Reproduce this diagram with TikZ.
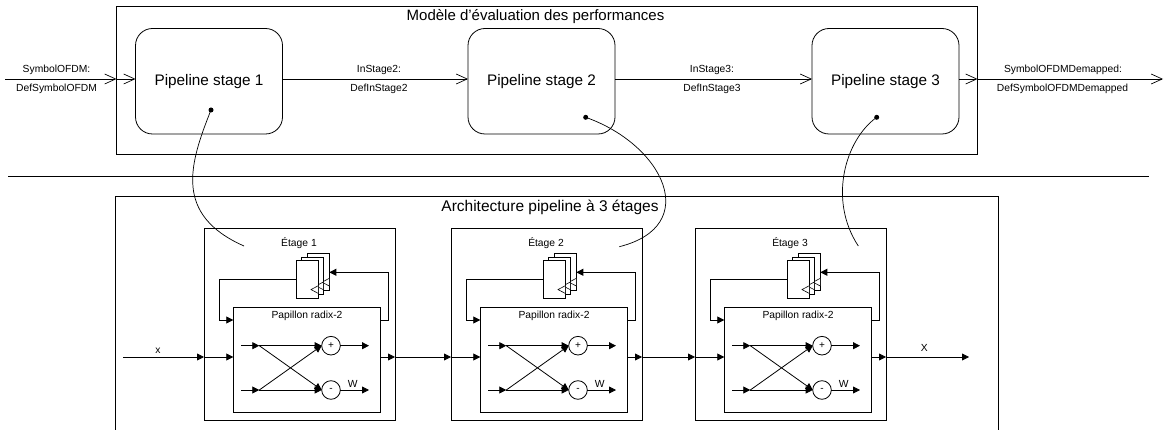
\documentclass[tikz,border=0pt]{standalone}
\usepackage{fontspec}
\setmainfont{Liberation Sans}
\usetikzlibrary{arrows.meta}
\tikzset{
  framebox/.style={draw, line width=0.8pt, inner sep=0pt, outer sep=0pt, fill=none},
  stagebox/.style={framebox, rounded corners=17pt, minimum width=147pt, minimum height=105.5pt, font=\fontsize{15.3}{17}\selectfont},
  regbox/.style={framebox, fill=white, minimum width=22.3pt, minimum height=37.6pt},
  opcircle/.style={draw, circle, line width=0.8pt, inner sep=0pt, outer sep=0pt, minimum size=18.6pt, font=\fontsize{10}{11}\selectfont},
  smalltext/.style={font=\fontsize{10.3}{11}\selectfont, inner sep=0pt},
  titletext/.style={font=\fontsize{15}{17}\selectfont, inner sep=0pt},
  openflow/.style={line width=0.8pt, -{Straight Barb[length=11pt,width=10pt,line width=0.7pt]}},
  flow/.style={line width=0.8pt, -{Triangle[length=7pt,width=7pt]}},
  linkline/.style={line width=0.7pt},
  linkdot/.style={circle, fill, inner sep=0pt, minimum size=5pt},
}
\begin{document}
\begin{tikzpicture}[x=1pt,y=-1pt]
    \useasboundingbox (0,0) rectangle (1167,430);
    % Performance model
    \node[framebox, minimum width=861pt, minimum height=147.5pt] (model) at (547,80.25) {};
    \node[titletext] (modeltitle) at (535.5,16.5) {Modèle d’évaluation des performances};
    \node[stagebox] (stage1) at (209,81.25) {Pipeline stage 1};
    \node[stagebox] (stage2) at (541.5,81.25) {Pipeline stage 2};
    \node[stagebox] (stage3) at (885.5,81.25) {Pipeline stage 3};
    \coordinate (flowin) at (5,79); \coordinate (flowout) at (1163,79);
    \coordinate (modelin) at (model.west |- flowin); \coordinate (modelout) at (model.east |- flowin);
    \draw[openflow] (flowin) -- (modelin);
    \draw[openflow] (modelin) -- (stage1.west |- flowin);
    \draw[openflow] (stage1.east |- flowin) -- (stage2.west |- flowin);
    \draw[openflow] (stage2.east |- flowin) -- (stage3.west |- flowin);
    \draw[openflow] (stage3.east |- flowin) -- (modelout);
    \draw[openflow] (modelout) -- (flowout);
    \node[smalltext] (lblin) at (56.5,70) {SymbolOFDM:};
    \node[smalltext] (lbldefin) at (56.5,89) {DefSymbolOFDM};
    \node[smalltext] (lblone) at (379,70) {InStage2:};
    \node[smalltext] (lbldefone) at (379,88.5) {DefInStage2};
    \node[smalltext] (lbltwo) at (712,70) {InStage3:};
    \node[smalltext] (lbldeftwo) at (712,88.5) {DefInStage3};
    \node[smalltext] (lblout) at (1063,70) {SymbolOFDMDemapped:};
    \node[smalltext] (lbldefout) at (1062.5,89) {DefSymbolOFDMDemapped};
    % Separator
    \coordinate (sepl) at (8,176); \coordinate (sepr) at (1149,176);
    \draw[line width=0.8pt] (sepl) -- (sepr);
    % Architecture
    \node[framebox, minimum width=883pt, minimum height=235pt] (arch) at (556.5,314) {};
    \node[titletext, font=\fontsize{15.5}{17}\selectfont] (archtitle) at (550,207) {Architecture pipeline à 3 étages};
    \foreach \i/\dx in {1/0,2/247,3/491} {
      \begin{scope}[xshift=\dx pt]
        \node[framebox, minimum width=191pt, minimum height=192pt] (etage\i) at (299.5,324) {};
        \node[smalltext] (etagetitle\i) at (299,243) {Étage \i};
        \node[framebox, minimum width=147.4pt, minimum height=105pt] (pap\i) at (307,359.8) {};
        \node[smalltext] (paptitle\i) at (307,316) {Papillon radix-2};
        % stacked registers
        \foreach \j/\ox/\oy in {c/11/-7.4,b/5/-3.7,a/0/0} {
          \node[regbox] (reg\i\j) at (307.15+\ox,279.5+\oy) {};
          \draw[line width=0.6pt, fill=white] (reg\i\j.south east) ++(0,-12.6) -- ++(0,7.7) -- ++(-7.3,-3.8) -- cycle;
        }
        % feedback
        \coordinate (fbl\i) at (219.7,320); \coordinate (fbr\i) at (388.3,320);
        \draw[flow] (reg\i a.west) -| (fbl\i) -- (pap\i.west |- fbl\i);
        \coordinate (fbtop\i) at (388.3,272.3);
        \draw[flow] (pap\i.east |- fbr\i) -- (fbr\i) -- (fbtop\i) -- (reg\i c.east |- fbtop\i);
        % butterfly
        \node[opcircle] (plus\i) at (331,345.7) {+};
        \node[opcircle] (minus\i) at (331,390) {-};
        \coordinate (ua\i) at (241.3,345.7); \coordinate (ub\i) at (259.3,345.7);
        \coordinate (la\i) at (241.3,390); \coordinate (lb\i) at (259.3,390);
        \coordinate (uo\i) at (369,345.7); \coordinate (lo\i) at (369,390);
        \draw[flow] (ua\i) -- (ub\i);
        \draw[flow] (la\i) -- (lb\i);
        \draw[flow] (ub\i) -- (plus\i.west);
        \draw[flow] (lb\i) -- (minus\i.west);
        \draw[flow] (ub\i) -- (minus\i.west);
        \draw[flow] (lb\i) -- (plus\i.west);
        \draw[flow] (plus\i.east) -- (uo\i);
        \draw[flow] (minus\i.east) -- (lo\i);
        \node[smalltext] (w\i) at (352.7,384) {W};
        % ports
        \coordinate (pin\i) at (etage\i.west |- 0,357);
        \coordinate (pout\i) at (etage\i.east |- 0,357);
        \draw[flow] (pin\i) -- (pap\i.west |- pin\i);
        \draw[flow] (pap\i.east |- pin\i) -- (pout\i);
      \end{scope}
    }
    \coordinate (archin) at (123.3,357); \coordinate (archout) at (969,357);
    \draw[flow] (archin) -- (pin1);
    \draw[flow] (pout1) -- (pin2);
    \draw[flow] (pout2) -- (pin3);
    \draw[flow] (pout3) -- (archout);
    \node[smalltext] (lblx) at (158,351) {x};
    \node[smalltext] (lblbigx) at (924.3,348) {X};
    % Links model to architecture
    \coordinate (linkone) at (244,246); \coordinate (linktwo) at (619.3,246.7); \coordinate (linkthree) at (858.3,246);
    \node[linkdot] (dotone) at (211,110) {};
    \node[linkdot] (dottwo) at (585.7,117.3) {};
    \node[linkdot] (dotthree) at (876.7,117.3) {};
    \draw[linkline] (dotone.center) .. controls (189,165) and (174,215) .. (linkone);
    \draw[linkline] (dottwo.center) .. controls (664,145) and (702,226) .. (linktwo);
    \draw[linkline] (dotthree.center) .. controls (845,140) and (828,200) .. (linkthree);
\end{tikzpicture}
\end{document}
